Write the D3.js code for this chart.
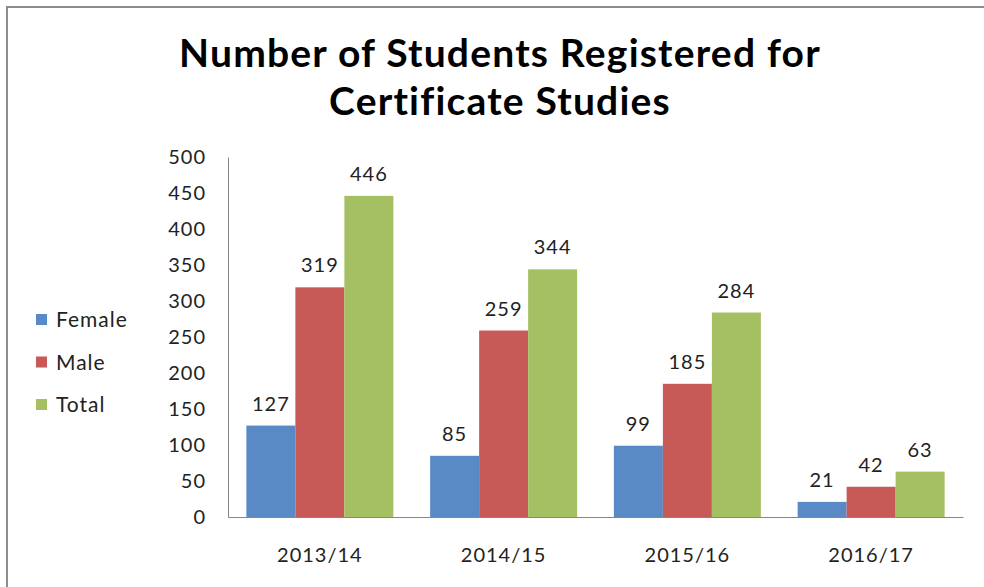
<!DOCTYPE html>
<html>
<head>
<meta charset="utf-8">
<script src="https://cdn.jsdelivr.net/npm/d3@7"></script>
<style>
  body { margin: 0; background: #fff; }
  svg { display: block; }
  text { font-family: Lato, "Open Sans", sans-serif; fill: #222; }
</style>
</head>
<body>
<div id="chart"></div>
<script>
// chart data
var years = ["2013/14", "2014/15", "2015/16", "2016/17"];
var seriesNames = ["Female", "Male", "Total"];
var female = [127, 85, 99, 21];
var male = [319, 259, 185, 42];
var total = [446, 344, 284, 63];
var yTicks = [0, 50, 100, 150, 200, 250, 300, 350, 400, 450, 500];
var colors = ["#5a8ac6", "#c75a57", "#a4c062"];

var width = 984, height = 587;
var svg = d3.select("#chart").append("svg")
    .attr("width", width)
    .attr("height", height);

// outer frame (runs off right / bottom)
svg.append("rect")
    .attr("x", 7).attr("y", 7)
    .attr("width", 1000).attr("height", 700)
    .attr("fill", "#fff")
    .attr("stroke", "#8c8c8c")
    .attr("stroke-width", 2);

// title
var title = svg.append("text")
    .attr("text-anchor", "middle")
    .style("font-weight", "bold")
    .style("font-size", "39px")
    .style("letter-spacing", "1.2px")
    .style("fill", "#000");
title.append("tspan").attr("x", 500).attr("y", 67).text("Number of Students Registered for");
title.append("tspan").attr("x", 500).attr("y", 115).text("Certificate Studies");

var plot = { left: 228, right: 963, top: 157, bottom: 517 };

var x = d3.scaleBand()
    .domain(years)
    .range([plot.left, plot.right])
    .paddingInner(0.2)
    .paddingOuter(0.1);

var x1 = d3.scaleBand()
    .domain(seriesNames)
    .range([0, x.bandwidth()]);

var y = d3.scaleLinear()
    .domain([0, 500])
    .range([plot.bottom, plot.top]);

var data = years.map(function(yr, i) {
    return { year: yr, values: [female[i], male[i], total[i]] };
});

function labelStyle(sel) {
    sel.style("font-size", "20px")
        .style("letter-spacing", "1px")
        .style("font-family", "Lato, sans-serif")
        .attr("fill", "#222");
}

// y axis
var yAxis = svg.append("g")
    .attr("transform", "translate(" + plot.left + ",0)")
    .call(d3.axisLeft(y).tickValues(yTicks).tickSize(0).tickPadding(22));
yAxis.select(".domain").attr("stroke", "#868686");
yAxis.selectAll("text").call(labelStyle);

// bars
var groups = svg.selectAll(".grp")
    .data(data)
    .enter().append("g")
    .attr("class", "grp")
    .attr("transform", function(d) { return "translate(" + x(d.year) + ",0)"; });

groups.selectAll("rect")
    .data(function(d) { return d.values; })
    .enter().append("rect")
    .attr("x", function(d, i) { return x1(seriesNames[i]); })
    .attr("y", function(d) { return y(d); })
    .attr("width", x1.bandwidth())
    .attr("height", function(d) { return y(0) - y(d); })
    .attr("fill", function(d, i) { return colors[i]; });

groups.selectAll(".lbl")
    .data(function(d) { return d.values; })
    .enter().append("text")
    .attr("class", "lbl")
    .attr("text-anchor", "middle")
    .attr("x", function(d, i) { return x1(seriesNames[i]) + x1.bandwidth() / 2; })
    .attr("y", function(d) { return y(d) - 15; })
    .call(labelStyle)
    .text(function(d) { return d; });

// x axis
var xAxis = svg.append("g")
    .attr("transform", "translate(0," + plot.bottom + ")")
    .call(d3.axisBottom(x).tickSize(0).tickPadding(31).tickSizeOuter(0));
xAxis.select(".domain").attr("stroke", "#868686");
xAxis.selectAll("text").call(labelStyle);

// legend
var legend = svg.selectAll(".leg")
    .data(seriesNames)
    .enter().append("g")
    .attr("class", "leg")
    .attr("transform", function(d, i) { return "translate(36," + (320 + i * 42.5) + ")"; });
legend.append("rect")
    .attr("x", 0).attr("y", -6)
    .attr("width", 11).attr("height", 11)
    .attr("fill", function(d, i) { return colors[i]; });
legend.append("text")
    .attr("x", 20).attr("y", 7)
    .call(labelStyle)
    .style("font-size", "21px")
    .text(function(d) { return d; });
</script>
</body>
</html>
